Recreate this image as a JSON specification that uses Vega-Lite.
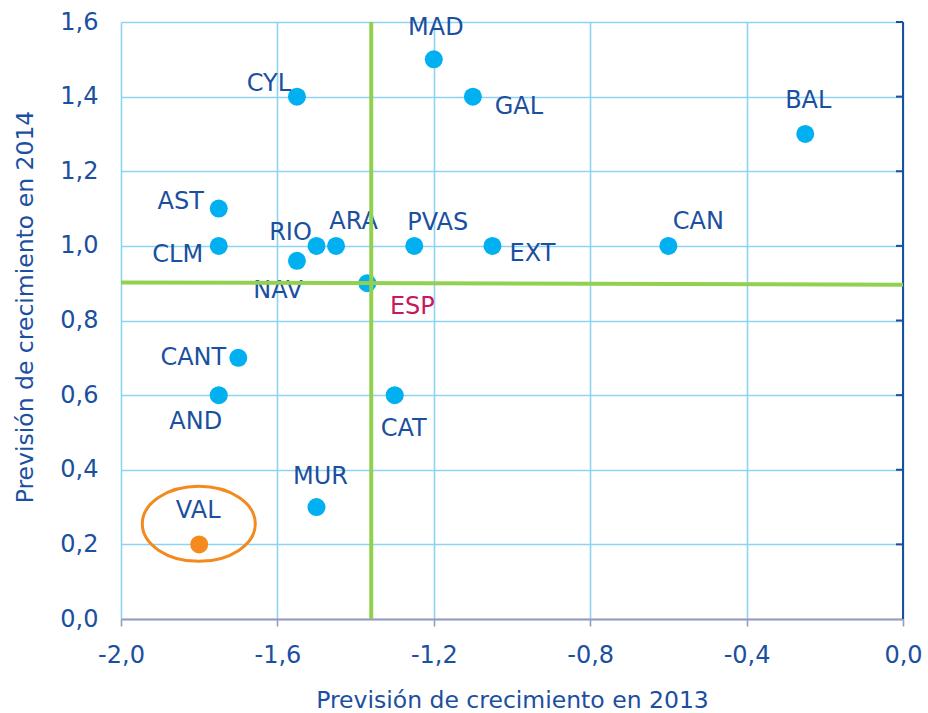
{
  "$schema": "https://vega.github.io/schema/vega-lite/v6.json",
  "width": 782,
  "height": 597,
  "autosize": {"type": "none"},
  "padding": {"left": 121, "top": 22, "right": 25, "bottom": 94},
  "background": "white",
  "config": {
    "locale": {"number": {"decimal": ",", "thousands": ".", "grouping": [3], "currency": ["", " €"], "minus": "-"}},
    "view": {"stroke": null},
    "font": "DejaVu Sans",
    "text": {"font": "DejaVu Sans", "fontSize": 24, "color": "#1B4F9F"}
  },
  "datasets": {
    "pts": [
      {"r": "MAD", "x": -1.2, "y": 1.5},
      {"r": "GAL", "x": -1.1, "y": 1.4},
      {"r": "CYL", "x": -1.55, "y": 1.4},
      {"r": "BAL", "x": -0.25, "y": 1.3},
      {"r": "AST", "x": -1.75, "y": 1.1},
      {"r": "CLM", "x": -1.75, "y": 1.0},
      {"r": "RIO", "x": -1.5, "y": 1.0},
      {"r": "ARA", "x": -1.45, "y": 1.0},
      {"r": "PVAS", "x": -1.25, "y": 1.0},
      {"r": "EXT", "x": -1.05, "y": 1.0},
      {"r": "CAN", "x": -0.6, "y": 1.0},
      {"r": "NAV", "x": -1.55, "y": 0.96},
      {"r": "ESP", "x": -1.37, "y": 0.9},
      {"r": "CANT", "x": -1.7, "y": 0.7},
      {"r": "AND", "x": -1.75, "y": 0.6},
      {"r": "CAT", "x": -1.3, "y": 0.6},
      {"r": "MUR", "x": -1.5, "y": 0.3},
      {"r": "VAL", "x": -1.8, "y": 0.2}
    ],
    "hline": [{"x": -2.0, "y": 0.902}, {"x": 0.0, "y": 0.896}],
    "vline": [{"x": -1.36, "y": 0.0}, {"x": -1.36, "y": 1.6}],
    "rticks": [{"x": 0, "y": 0.2}, {"x": 0, "y": 0.4}, {"x": 0, "y": 0.6}, {"x": 0, "y": 0.8}, {"x": 0, "y": 1.0}, {"x": 0, "y": 1.2}, {"x": 0, "y": 1.4}, {"x": 0, "y": 1.6}],
    "rborder": [{"x": 0, "y": 0}, {"x": 0, "y": 1.6}],
    "ell": [{"x": -1.801, "y": 0.255}]
  },
  "encoding": {
    "x": {
      "field": "x", "type": "quantitative",
      "scale": {"domain": [-2, 0], "nice": false, "zero": false},
      "axis": {
        "values": [-2, -1.6, -1.2, -0.8, -0.4, 0],
        "format": ".1f",
        "grid": true, "gridColor": "#8DD3F2", "gridWidth": 1.6,
        "domainColor": "#9A9ABE", "domainWidth": 1.8,
        "tickColor": "#9A9ABE", "tickWidth": 1.6, "tickSize": 7,
        "labelFont": "DejaVu Sans", "labelFontSize": 24, "labelColor": "#1B4F9F", "labelPadding": 17.5,
        "labelFlush": false, "labelOverlap": false,
        "title": "Previsión de crecimiento en 2013",
        "titleFont": "DejaVu Sans", "titleFontSize": 23.5, "titleFontWeight": "normal", "titleColor": "#1B4F9F",
        "titleX": 391, "titleY": 81, "titleBaseline": "middle", "titleAlign": "center"
      }
    },
    "y": {
      "field": "y", "type": "quantitative",
      "scale": {"domain": [0, 1.6], "nice": false, "zero": false},
      "axis": {
        "values": [0, 0.2, 0.4, 0.6, 0.8, 1.0, 1.2, 1.4, 1.6],
        "format": ".1f",
        "grid": true, "gridColor": "#8DD3F2", "gridWidth": 1.6,
        "domain": false, "ticks": false, "tickSize": 0,
        "labelFont": "DejaVu Sans", "labelFontSize": 24, "labelColor": "#1B4F9F", "labelPadding": 23,
        "labelOverlap": false,
        "title": "Previsión de crecimiento  en 2014",
        "titleFont": "DejaVu Sans", "titleFontSize": 23.5, "titleFontWeight": "normal", "titleColor": "#1B4F9F",
        "titleX": -96, "titleY": 284.5, "titleAngle": -90, "titleBaseline": "middle", "titleAlign": "center"
      }
    }
  },
  "layer": [
    {
      "data": {"name": "rborder"},
      "mark": {"type": "line", "color": "#1B4F9F", "strokeWidth": 2}
    },
    {
      "data": {"name": "rticks"},
      "mark": {"type": "tick", "orient": "horizontal", "color": "#1B4F9F", "size": 7, "thickness": 2, "xOffset": -3.5, "opacity": 1}
    },
    {
      "data": {"name": "pts"},
      "mark": {"type": "circle", "size": 324, "opacity": 1},
      "encoding": {
        "color": {"condition": {"test": "datum.r === 'VAL'", "value": "#F58A1F"}, "value": "#00B0F0"}
      }
    },
    {"data": {"name": "pts"}, "transform": [{"filter": "datum.r === 'MAD'"}], "mark": {"type": "text", "dx": 2, "dy": -31.5}, "encoding": {"text": {"field": "r"}}},
    {"data": {"name": "pts"}, "transform": [{"filter": "datum.r === 'GAL'"}], "mark": {"type": "text", "dx": 46, "dy": 10.5}, "encoding": {"text": {"field": "r"}}},
    {"data": {"name": "pts"}, "transform": [{"filter": "datum.r === 'CYL'"}], "mark": {"type": "text", "dx": -28, "dy": -13}, "encoding": {"text": {"field": "r"}}},
    {"data": {"name": "pts"}, "transform": [{"filter": "datum.r === 'BAL'"}], "mark": {"type": "text", "dx": 3, "dy": -32.5}, "encoding": {"text": {"field": "r"}}},
    {"data": {"name": "pts"}, "transform": [{"filter": "datum.r === 'AST'"}], "mark": {"type": "text", "dx": -38, "dy": -6.5}, "encoding": {"text": {"field": "r"}}},
    {"data": {"name": "pts"}, "transform": [{"filter": "datum.r === 'CLM'"}], "mark": {"type": "text", "dx": -41, "dy": 9.5}, "encoding": {"text": {"field": "r"}}},
    {"data": {"name": "pts"}, "transform": [{"filter": "datum.r === 'RIO'"}], "mark": {"type": "text", "dx": -26, "dy": -12.5}, "encoding": {"text": {"field": "r"}}},
    {"data": {"name": "pts"}, "transform": [{"filter": "datum.r === 'ARA'"}], "mark": {"type": "text", "dx": 17.5, "dy": -23.5}, "encoding": {"text": {"field": "r"}}},
    {"data": {"name": "pts"}, "transform": [{"filter": "datum.r === 'PVAS'"}], "mark": {"type": "text", "dx": 23.5, "dy": -22.5}, "encoding": {"text": {"field": "r"}}},
    {"data": {"name": "pts"}, "transform": [{"filter": "datum.r === 'EXT'"}], "mark": {"type": "text", "dx": 40, "dy": 8.5}, "encoding": {"text": {"field": "r"}}},
    {"data": {"name": "pts"}, "transform": [{"filter": "datum.r === 'CAN'"}], "mark": {"type": "text", "dx": 30, "dy": -23.5}, "encoding": {"text": {"field": "r"}}},
    {"data": {"name": "pts"}, "transform": [{"filter": "datum.r === 'NAV'"}], "mark": {"type": "text", "dx": -19, "dy": 30.5}, "encoding": {"text": {"field": "r"}}},
    {"data": {"name": "pts"}, "transform": [{"filter": "datum.r === 'ESP'"}], "mark": {"type": "text", "dx": 45, "dy": 23.5, "color": "#C8195C"}, "encoding": {"text": {"field": "r"}}},
    {"data": {"name": "pts"}, "transform": [{"filter": "datum.r === 'CANT'"}], "mark": {"type": "text", "dx": -45, "dy": 0.5}, "encoding": {"text": {"field": "r"}}},
    {"data": {"name": "pts"}, "transform": [{"filter": "datum.r === 'AND'"}], "mark": {"type": "text", "dx": -23, "dy": 26.5}, "encoding": {"text": {"field": "r"}}},
    {"data": {"name": "pts"}, "transform": [{"filter": "datum.r === 'CAT'"}], "mark": {"type": "text", "dx": 9, "dy": 33.5}, "encoding": {"text": {"field": "r"}}},
    {"data": {"name": "pts"}, "transform": [{"filter": "datum.r === 'MUR'"}], "mark": {"type": "text", "dx": 4, "dy": -30.5}, "encoding": {"text": {"field": "r"}}},
    {"data": {"name": "pts"}, "transform": [{"filter": "datum.r === 'VAL'"}], "mark": {"type": "text", "dx": -1, "dy": -33.5}, "encoding": {"text": {"field": "r"}}},
    {
      "data": {"name": "hline"},
      "mark": {"type": "line", "color": "#92D050", "strokeWidth": 4}
    },
    {
      "data": {"name": "vline"},
      "mark": {"type": "line", "color": "#92D050", "strokeWidth": 4}
    },
    {
      "data": {"name": "ell"},
      "mark": {
        "type": "point",
        "shape": "M-1,0A1,0.664,0,1,0,1,0A1,0.664,0,1,0,-1,0Z",
        "size": 12769, "filled": false, "stroke": "#F28A1E", "strokeWidth": 3, "opacity": 1
      }
    }
  ]
}
